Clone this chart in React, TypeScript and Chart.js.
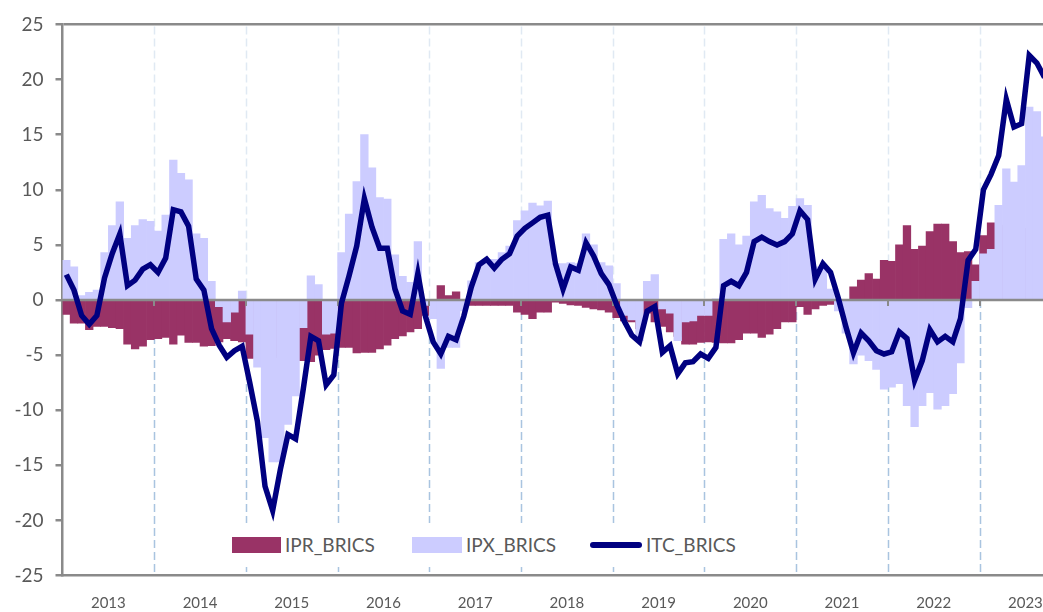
import React, { useEffect, useRef } from 'react';
import { Chart, registerables } from 'chart.js';

Chart.register(...registerables);

// Year labels of the x axis (one per calendar year, monthly data from Jan 2013)
const yearLabels = ['2013', '2014', '2015', '2016', '2017', '2018', '2019', '2020', '2021', '2022', '2023'];

// IPR_BRICS (monthly)
const iprBrics = [
  -1.3, -2.1, -2.1, -2.7, -2.4, -2.4, -2.5, -2.6, -4.0, -4.45, -4.2, -3.6,
  -3.5, -3.4, -4.0, -3.2, -3.85, -3.85, -4.2, -4.15, -3.8, -3.5, -3.7, -3.8,
  -5.3, -5.2, -5.0, -5.0, -5.2, -5.3, -5.4, -5.5, -5.6, -5.0, -4.5, -4.4,
  -4.3, -4.3, -4.8, -4.75, -4.75, -4.45, -4.1, -3.5, -3.25, -2.9, -2.6, -1.4,
  -0.5, 1.3, 0.4, 0.75, -0.3, -0.5, -0.5, -0.5, -0.5, -0.5, -0.5, -1.1,
  -1.3, -1.7, -1.1, -1.1, -0.2, -0.3, -0.45, -0.5, -0.67, -0.8, -0.9, -1.1,
  -1.6, -1.9, -2.0, -2.6, -1.2, -2.0, -2.4, -2.9, -3.3, -4.0, -4.0, -3.85,
  -3.8, -3.85, -3.9, -3.9, -3.6, -3.0, -3.0, -3.4, -3.1, -2.6, -2.0, -2.0,
  -0.6, -1.3, -0.8, -0.5, -0.4, -0.3, -0.1, 1.2, 1.8, 2.4, 1.9, 3.6,
  3.5, 5.0, 6.75, 4.6, 4.9, 6.2, 6.9, 6.9, 5.3, 4.3, 4.4, 3.2,
  5.85, 7.0, 6.8, 6.6, 6.5, 6.5, 6.5, 6.5, 6.5,
];

// IPX_BRICS (monthly)
const ipxBrics = [
  3.6, 3.0, 0.4, 0.7, 0.9, 4.3, 6.75, 8.9, 5.6, 6.75, 7.3, 7.15,
  6.25, 7.7, 12.7, 11.5, 10.9, 6.0, 5.6, 1.7, -0.6, -2.0, -1.1, 0.8,
  -3.1, -6.1, -12.5, -14.7, -14.7, -11.3, -8.7, -2.5, 2.2, 1.4, -3.1, -3.0,
  4.3, 7.8, 10.75, 15.0, 12.0, 9.3, 9.15, 4.1, 2.15, 1.6, 5.3, -0.5,
  -1.7, -6.2, -4.3, -4.3, -1.0, 1.75, 3.4, 3.5, 3.7, 4.3, 4.9, 7.2,
  8.1, 8.8, 8.55, 8.97, 3.3, 3.3, 3.4, 3.3, 6.0, 5.0, 3.4, 3.1,
  1.5, -1.4, -1.8, -3.7, 1.7, 2.3, -0.8, -1.2, -3.7, -2.0, -1.9, -1.4,
  -1.4, 0.1, 5.5, 6.0, 5.0, 5.8, 8.9, 9.5, 8.3, 8.0, 7.4, 8.5,
  9.2, 8.6, 3.0, 2.9, 1.0, -1.0, -3.0, -5.8, -5.0, -5.5, -6.3, -8.1,
  -7.9, -7.6, -9.6, -11.5, -9.6, -8.4, -9.9, -9.6, -8.5, -5.7, -0.7, 1.7,
  4.2, 4.6, 8.6, 11.9, 10.7, 12.2, 17.5, 17.1, 14.8,
];

// ITC_BRICS (monthly)
const itcBrics = [
  2.3, 0.9, -1.4, -2.2, -1.4, 2.0, 4.2, 6.0, 1.3, 1.8, 2.8, 3.2,
  2.5, 3.8, 8.2, 8.0, 6.7, 1.9, 0.9, -2.6, -4.1, -5.2, -4.6, -4.2,
  -7.5, -11.0, -16.9, -19.1, -15.4, -12.2, -12.6, -8.1, -3.3, -3.7, -7.7, -6.8,
  -0.3, 2.2, 4.9, 9.2, 6.6, 4.7, 4.7, 1.0, -1.0, -1.3, 2.4, -1.5,
  -3.8, -4.9, -3.3, -3.6, -1.5, 1.2, 3.2, 3.7, 2.9, 3.7, 4.2, 5.8,
  6.5, 7.0, 7.5, 7.7, 3.3, 1.0, 3.0, 2.7, 5.2, 4.0, 2.4, 1.4,
  -0.4, -1.9, -3.2, -3.8, -1.0, -0.6, -4.75, -4.15, -6.7, -5.7, -5.6, -4.9,
  -5.3, -4.3, 1.3, 1.7, 1.3, 2.5, 5.3, 5.7, 5.3, 5.0, 5.3, 6.0,
  8.1, 7.3, 1.9, 3.3, 2.5, 0.2, -2.4, -4.8, -3.0, -3.7, -4.6, -4.9,
  -4.7, -2.9, -3.5, -7.3, -5.5, -2.7, -3.8, -3.3, -3.8, -1.7, 3.6, 4.6,
  10.0, 11.4, 13.1, 18.2, 15.7, 16.0, 22.2, 21.5, 20.2,
];

const yTicks = [-25, -20, -15, -10, -5, 0, 5, 10, 15, 20, 25];

const MONTHS_PER_YEAR = 12;
const VISIBLE_MONTHS = 128.3;

const FONT = 'Lato, "Open Sans", "DejaVu Sans", sans-serif';
const TEXT = '#595959';
const AXIS = '#8a8a8a';
const C_IPR = '#993366';
const C_IPX = '#ccccff';
const C_ITC = '#000080';

const toPoints = (arr: number[]) => arr.map((v, i) => ({ x: i + 0.5, y: v }));

const decorPlugin = {
  id: 'decor',
  beforeDatasetsDraw(chart: any) {
    const { ctx, chartArea, scales } = chart;
    const x = scales.x;
    const y = scales.y;
    const y0 = y.getPixelForValue(0);
    ctx.save();
    ctx.lineWidth = 1.5;
    ctx.setLineDash([8, 4]);
    for (let k = 1; k < yearLabels.length; k++) {
      const px = Math.round(x.getPixelForValue(k * MONTHS_PER_YEAR)) + 0.5;
      if (px > chartArea.right) break;
      ctx.strokeStyle = '#e0e9f3';
      ctx.beginPath();
      ctx.moveTo(px, chartArea.top + 2);
      ctx.lineTo(px, y0);
      ctx.stroke();
      ctx.strokeStyle = '#a9c4e0';
      ctx.beginPath();
      ctx.moveTo(px, y0);
      ctx.lineTo(px, chartArea.bottom - 1);
      ctx.stroke();
    }
    ctx.restore();
  },
  beforeDatasetDraw(chart: any, args: any) {
    if (args.index !== 2) return;
    const { ctx, chartArea, scales } = chart;
    const x = scales.x;
    const y = scales.y;
    const y0 = y.getPixelForValue(0);
    ctx.save();
    ctx.strokeStyle = AXIS;
    ctx.lineWidth = 2.5;
    ctx.beginPath();
    ctx.moveTo(chartArea.left, y0);
    ctx.lineTo(chartArea.right, y0);
    ctx.stroke();
    ctx.lineWidth = 2;
    for (let k = 1; k < yearLabels.length; k++) {
      const px = Math.round(x.getPixelForValue(k * MONTHS_PER_YEAR));
      if (px > chartArea.right) break;
      ctx.beginPath();
      ctx.moveTo(px, y0);
      ctx.lineTo(px, y0 + 6);
      ctx.stroke();
    }
    ctx.restore();
  },
};

export default function App() {
  const canvasRef = useRef<HTMLCanvasElement | null>(null);

  useEffect(() => {
    if (!canvasRef.current) return;
    const chart = new Chart(canvasRef.current, {
      type: 'bar',
      data: {
        datasets: [
          {
            type: 'bar',
            label: 'IPR_BRICS',
            data: toPoints(iprBrics),
            backgroundColor: C_IPR,
            borderWidth: 0,
            grouped: false,
            barPercentage: 1,
            categoryPercentage: 1,
            order: 2,
          } as any,
          {
            type: 'bar',
            label: 'IPX_BRICS',
            data: toPoints(ipxBrics),
            backgroundColor: C_IPX,
            borderWidth: 0,
            grouped: false,
            barPercentage: 1,
            categoryPercentage: 1,
            order: 1,
          } as any,
          {
            type: 'line',
            label: 'ITC_BRICS',
            data: toPoints(itcBrics),
            borderColor: C_ITC,
            backgroundColor: C_ITC,
            borderWidth: 5.5,
            pointRadius: 0,
            tension: 0,
            fill: false,
            order: 0,
          } as any,
        ],
      },
      options: {
        animation: false,
        responsive: false,
        devicePixelRatio: 1,
        events: [],
        layout: { autoPadding: false, padding: { top: 24.5, left: 0, right: 0, bottom: 0 } },
        plugins: {
          legend: { display: false },
          tooltip: { enabled: false },
        },
        scales: {
          x: {
            type: 'linear',
            min: 0,
            max: VISIBLE_MONTHS,
            offset: false,
            grid: { display: true, color: 'rgba(0,0,0,0)', drawTicks: false },
            border: { display: true, color: AXIS, width: 2.5 },
            afterBuildTicks: (scale: any) => {
              scale.ticks = yearLabels.map((_, i) => ({ value: i * MONTHS_PER_YEAR + 6 }));
            },
            ticks: {
              autoSkip: false,
              maxRotation: 0,
              padding: 19,
              color: TEXT,
              font: { family: FONT, size: 15 },
              callback: (v: any) => {
                const idx = Math.round((Number(v) - 6) / MONTHS_PER_YEAR);
                return yearLabels[idx] ?? '';
              },
            },
            afterFit: (scale: any) => {
              scale.height = 36.5;
              scale.paddingLeft = 0;
              scale.paddingRight = 0;
            },
          },
          y: {
            type: 'linear',
            min: -25,
            max: 25,
            afterBuildTicks: (scale: any) => {
              scale.ticks = yTicks.map((v) => ({ value: v }));
            },
            ticks: {
              padding: 12,
              color: TEXT,
              font: { family: FONT, size: 19 },
            },
            grid: {
              color: (c: any) => (c.tick && c.tick.value === 25 ? AXIS : 'rgba(0,0,0,0)'),
              tickColor: AXIS,
              tickLength: 7,
              lineWidth: 2.5,
            },
            border: { display: true, color: AXIS, width: 2.5 },
            afterFit: (scale: any) => {
              scale.width = 62.5;
              scale.paddingTop = 0;
              scale.paddingBottom = 0;
            },
          },
        },
      },
      plugins: [decorPlugin],
    });
    return () => chart.destroy();
  }, []);

  const textStyle: React.CSSProperties = {
    position: 'absolute',
    top: 533,
    height: 24,
    lineHeight: '24px',
    fontFamily: FONT,
    fontSize: 19,
    color: TEXT,
    whiteSpace: 'nowrap',
  };

  return (
    <div style={{ position: 'fixed', left: 0, top: 0, width: 1043, height: 612, background: '#fff', overflow: 'hidden' }}>
      <canvas ref={canvasRef} width={1043} height={612} style={{ position: 'absolute', left: 0, top: 0, width: 1043, height: 612 }} />
      <div style={{ position: 'absolute', left: 226, top: 523, width: 520, height: 44, background: '#fff' }} />
      <div style={{ position: 'absolute', left: 232, top: 537, width: 49, height: 16, background: C_IPR }} />
      <div style={{ ...textStyle, left: 285 }}>IPR_BRICS</div>
      <div style={{ position: 'absolute', left: 412, top: 537, width: 50, height: 16, background: C_IPX }} />
      <div style={{ ...textStyle, left: 466 }}>IPX_BRICS</div>
      <div style={{ position: 'absolute', left: 590, top: 542, width: 52, height: 6, borderRadius: 3, background: C_ITC }} />
      <div style={{ ...textStyle, left: 646 }}>ITC_BRICS</div>
    </div>
  );
}
